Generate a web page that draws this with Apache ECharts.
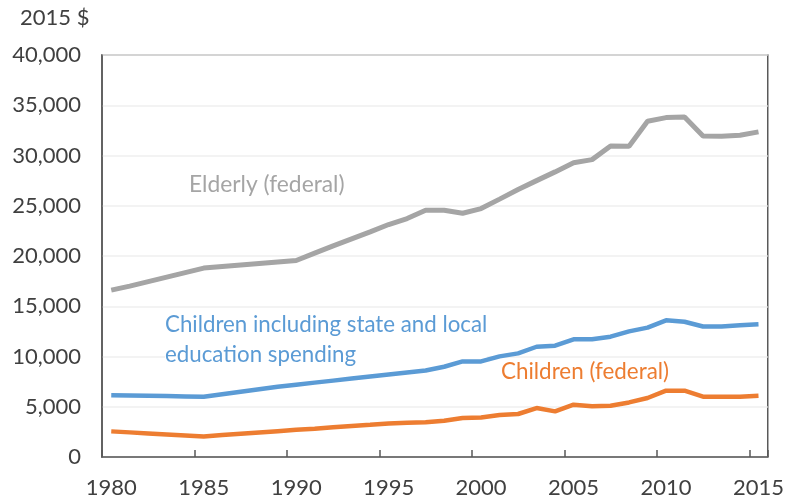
<!DOCTYPE html>
<html>
<head>
<meta charset="utf-8">
<script src="https://cdn.jsdelivr.net/npm/echarts@6/dist/echarts.min.js"></script>
<style>html,body{margin:0;padding:0;background:#fff;}#c{width:787px;height:503px;}</style>
</head>
<body>
<div id="c"></div>
<script>
const years = [];
for (let y = 1980; y <= 2015; y++) years.push(String(y));

const elderly = [16600, 17000, 17450, 17900, 18350, 18800, 18950, 19100, 19250, 19400, 19550,
  20280, 21000, 21700, 22400, 23130, 23730, 24560, 24560, 24250, 24720, 25660, 26610, 27500,
  28370, 29270, 29590, 30950, 30930, 33410, 33770, 33840, 31950, 31920, 32020, 32350];

const childrenAll = [6150, 6120, 6090, 6060, 6030, 6000, 6250, 6500, 6750, 7000, 7200,
  7400, 7600, 7800, 8000, 8200, 8400, 8600, 8980, 9510, 9510, 10010, 10310, 10970,
  11070, 11710, 11710, 11970, 12500, 12870, 13600, 13460, 12990, 12990, 13100, 13200];

const childrenFed = [2550, 2450, 2350, 2250, 2150, 2050, 2180, 2310, 2440, 2570, 2700,
  2820, 2950, 3080, 3200, 3330, 3400, 3450, 3610, 3880, 3940, 4180, 4280, 4870,
  4540, 5200, 5040, 5100, 5430, 5870, 6600, 6600, 6000, 6000, 6000, 6100];

const yTicks = { min: 0, max: 40000, interval: 5000 };
const unitLabel = '2015 $';
const seriesNames = ['Elderly (federal)', 'Children including state and local\neducation spending', 'Children (federal)'];
const colors = ['#a5a5a5', '#5b9bd5', '#ed7d31'];

const FONT = 'Lato';
const chart = echarts.init(document.getElementById('c'), null, { renderer: 'canvas' });
chart.setOption({
  animation: false,
  backgroundColor: '#fff',
  grid: { left: 102, right: 18, top: 55, bottom: 46, show: true, borderColor: '#595959', borderWidth: 1.5, containLabel: false },
  xAxis: {
    type: 'category', data: years, boundaryGap: true,
    axisLine: { show: true, lineStyle: { color: '#595959', width: 1.5 } },
    axisTick: { show: true, inside: true, length: 7, interval: 4, alignWithLabel: false, lineStyle: { color: '#595959', width: 1.5 } },
    axisLabel: { interval: 4, color: '#404040', fontFamily: FONT, fontSize: 22, margin: 20 },
    splitLine: { show: false }
  },
  yAxis: {
    type: 'value', min: yTicks.min, max: yTicks.max, interval: yTicks.interval,
    axisLine: { show: true, lineStyle: { color: '#595959', width: 1.5 } },
    axisTick: { show: false },
    axisLabel: { color: '#404040', fontFamily: FONT, fontSize: 22, margin: 21,
      formatter: v => v.toLocaleString('en-US') },
    splitLine: { show: true, lineStyle: { color: '#efefef', width: 1.5 } }
  },
  series: [
    { name: seriesNames[0], type: 'line', z: 5, data: elderly, symbol: 'none', lineStyle: { color: colors[0], width: 5 }, itemStyle: { color: colors[0] } },
    { name: seriesNames[1], type: 'line', z: 5, data: childrenAll, symbol: 'none', lineStyle: { color: colors[1], width: 4.5 }, itemStyle: { color: colors[1] } },
    { name: seriesNames[2], type: 'line', z: 5, data: childrenFed, symbol: 'none', lineStyle: { color: colors[2], width: 4.5 }, itemStyle: { color: colors[2] } }
  ],
  graphic: [
    { type: 'text', left: 20, top: 7, style: { text: unitLabel, fill: '#404040', font: '22px ' + FONT } },
    { type: 'text', left: 189, top: 173, style: { text: seriesNames[0], fill: colors[0], font: '22.8px ' + FONT } },
    { type: 'text', left: 165, top: 310, z: 1, style: { text: seriesNames[1], fill: colors[1], font: '22.3px ' + FONT, lineHeight: 30, backgroundColor: '#fff' } },
    { type: 'text', left: 501, top: 361, style: { text: seriesNames[2], fill: colors[2], font: '22.4px ' + FONT } }
  ]
});
</script>
</body>
</html>
